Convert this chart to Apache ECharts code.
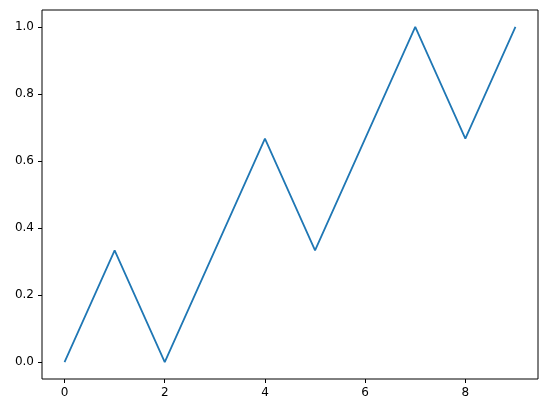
<!DOCTYPE html>
<html><head><meta charset="utf-8">
<script src="https://cdn.jsdelivr.net/npm/echarts@6/dist/echarts.min.js"></script>
<style>html,body{margin:0;padding:0;background:#fff}#c{width:547px;height:413px}</style>
</head><body><div id="c"></div>
<script>
const xValues = [0, 1, 2, 3, 4, 5, 6, 7, 8, 9];
const yValues = [0, 0.3333, 0, 0.3333, 0.6667, 0.3333, 0.6667, 1, 0.6667, 1];
const xTicks = [0, 2, 4, 6, 8];
const yTicks = [0, 0.2, 0.4, 0.6, 0.8, 1.0];

const chart = echarts.init(document.getElementById('c'), null, {renderer: 'canvas'});
const font = {fontFamily: 'DejaVu Sans', fontSize: 12, color: '#000'};
chart.setOption({
  animation: false,
  grid: {left: 42, right: 9, top: 10, bottom: 34, show: true, borderColor: '#000', borderWidth: 1},
  xAxis: {
    type: 'value', min: -0.45, max: 9.45,
    axisLine: {show: false, onZero: false},
    splitLine: {show: false},
    axisTick: {show: true, length: 4, inside: false, customValues: xTicks, lineStyle: {color: '#000'}},
    axisLabel: Object.assign({customValues: xTicks, margin: 8, formatter: v => String(v)}, font)
  },
  yAxis: {
    type: 'value', min: -0.05, max: 1.05,
    axisLine: {show: false, onZero: false},
    splitLine: {show: false},
    axisTick: {show: true, length: 4, inside: false, customValues: yTicks, lineStyle: {color: '#000'}},
    axisLabel: Object.assign({customValues: yTicks, margin: 8, formatter: v => v.toFixed(1)}, font)
  },
  series: [{
    type: 'line',
    data: xValues.map((x, i) => [x, yValues[i]]),
    showSymbol: false,
    lineStyle: {color: '#1f77b4', width: 1.8},
    itemStyle: {color: '#1f77b4'}
  }]
});
</script></body></html>
